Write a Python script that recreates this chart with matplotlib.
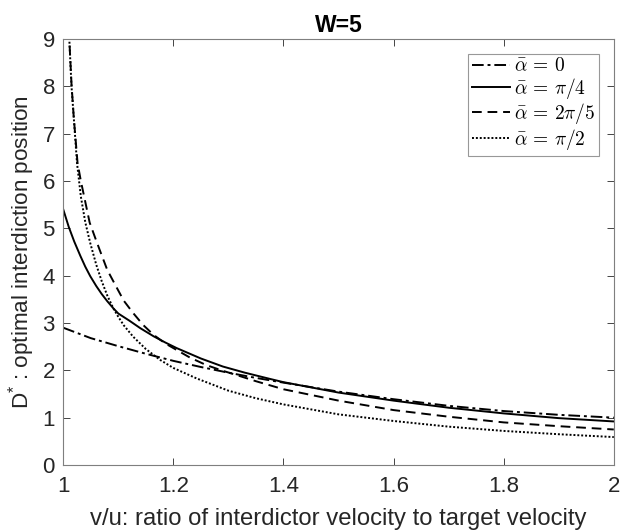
import matplotlib
matplotlib.use('Agg')
import matplotlib.pyplot as plt

# readings
x_a0 = [1.0, 1.05, 1.1, 1.15, 1.2, 1.25, 1.3, 1.35, 1.4, 1.5, 1.6, 1.7, 1.8, 1.9, 2.0]
y_a0 = [2.90, 2.68, 2.51, 2.35, 2.20, 2.07, 1.95, 1.84, 1.74, 1.55, 1.39, 1.25, 1.14, 1.06, 1.00]

x_pi4 = [1.0, 1.01, 1.02, 1.031, 1.04, 1.049, 1.06, 1.07, 1.08, 1.091, 1.1, 1.12, 1.14,
         1.164, 1.185, 1.206, 1.25, 1.29, 1.33, 1.375, 1.4, 1.5, 1.6, 1.7, 1.8, 1.9, 2.0]
y_pi4 = [5.40, 5.03, 4.72, 4.42, 4.19, 3.99, 3.78, 3.61, 3.46, 3.31, 3.20, 3.05, 2.89,
         2.72, 2.59, 2.47, 2.25, 2.08, 1.95, 1.82, 1.75, 1.53, 1.36, 1.21, 1.09, 0.99, 0.92]

x_2pi5 = [1.008, 1.011, 1.015, 1.019, 1.026, 1.032, 1.038, 1.048, 1.058, 1.066, 1.08,
          1.097, 1.11, 1.127, 1.145, 1.164, 1.185, 1.206, 1.23, 1.26, 1.29, 1.315, 1.35,
          1.4, 1.5, 1.6, 1.7, 1.8, 1.9, 2.0]
y_2pi5 = [10.0, 9.0, 8.05, 7.36, 6.38, 6.0, 5.67, 5.12, 4.80, 4.55, 4.12, 3.75, 3.47,
          3.21, 2.96, 2.75, 2.57, 2.43, 2.27, 2.11, 1.99, 1.90, 1.77, 1.60, 1.36, 1.16,
          1.02, 0.90, 0.82, 0.75]

x_pi2 = [1.008, 1.011, 1.015, 1.019, 1.025, 1.032, 1.04, 1.049, 1.06, 1.07, 1.08, 1.091,
         1.1, 1.11, 1.127, 1.15, 1.176, 1.2, 1.242, 1.3, 1.35, 1.4, 1.5, 1.6, 1.7, 1.8,
         1.9, 2.0]
y_pi2 = [10.3, 9.0, 8.0, 7.36, 6.38, 5.67, 5.13, 4.69, 4.23, 3.88, 3.58, 3.31, 3.13,
         2.95, 2.71, 2.45, 2.22, 2.05, 1.83, 1.57, 1.41, 1.28, 1.07, 0.93, 0.81, 0.72,
         0.65, 0.59]

labels = [r'$\bar{\alpha}\,=\,0$', r'$\bar{\alpha}\,=\,\pi/4$',
          r'$\bar{\alpha}\,=\,2\pi/5$', r'$\bar{\alpha}\,=\,\pi/2$']

plt.rcParams['font.family'] = ['Liberation Sans', 'DejaVu Sans']
plt.rcParams['mathtext.fontset'] = 'cm'

grey = '#262626'
fig = plt.figure(figsize=(6.2, 5.31), dpi=100)
ax = fig.add_axes([0.102, 0.1243, 0.888, 0.8023])

ax.plot(x_a0, y_a0, color='black', lw=1.4, ls=(0, (6, 2, 1.5, 2)), label=labels[0])
ax.plot(x_pi4, y_pi4, color='black', lw=1.4, ls='-', label=labels[1])
ax.plot(x_2pi5, y_2pi5, color='black', lw=1.4, ls=(0, (5, 3)), label=labels[2])
ax.plot(x_pi2, y_pi2, color='black', lw=1.4, ls=(0, (1, 1)), label=labels[3])

ax.set_xlim(1, 2)
ax.set_ylim(0, 9)
ax.set_xticks([1, 1.2, 1.4, 1.6, 1.8, 2])
ax.set_xticklabels(['1', '1.2', '1.4', '1.6', '1.8', '2'])
ax.set_yticks(range(0, 10))
ax.tick_params(direction='in', top=True, right=True, labelsize=16, colors=grey,
               length=5, width=0.6)
ax.tick_params(axis='x', pad=8)
ax.tick_params(axis='y', pad=6)
for s in ax.spines.values():
    s.set_color('#7f7f7f')
    s.set_linewidth(0.8)

ax.set_title('W=5', fontsize=16.5, fontweight='bold', pad=5)
ax.set_xlabel('v/u: ratio of interdictor velocity to target velocity', fontsize=17.2,
              color=grey, labelpad=8)
ax.set_ylabel(r'$\mathregular{D^{*}}$ : optimal interdiction position', fontsize=16.2,
              color=grey, labelpad=4)

leg = ax.legend(loc='upper right', fontsize=14, frameon=True, fancybox=False,
                handlelength=1.95, handletextpad=0.2, borderaxespad=0.75,
                labelspacing=0.02, borderpad=0.2)
leg.get_frame().set_edgecolor('#7f7f7f')
leg.get_frame().set_linewidth(0.8)

fig.savefig('out.png', dpi=100)
